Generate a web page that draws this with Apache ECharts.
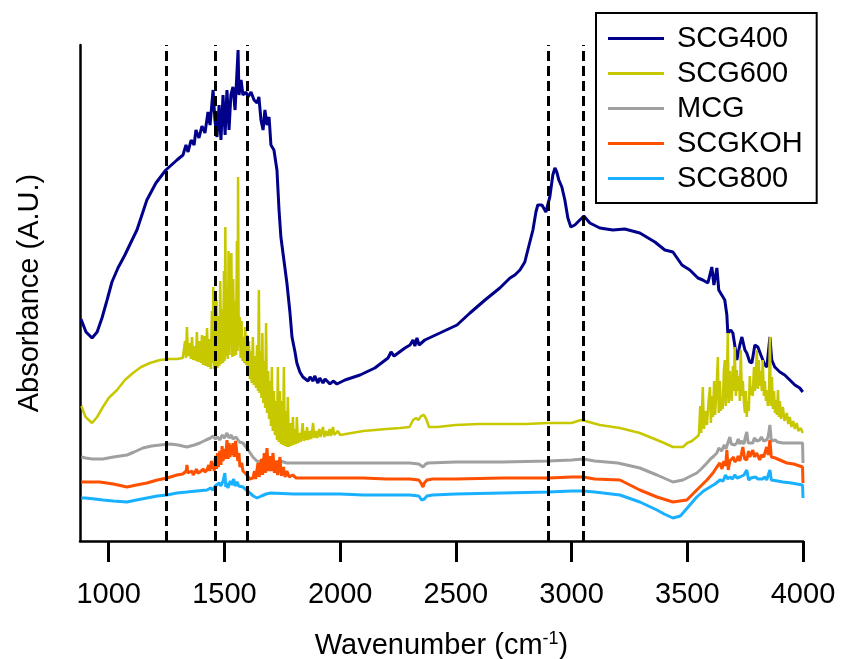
<!DOCTYPE html>
<html>
<head>
<meta charset="utf-8">
<script src="https://cdn.jsdelivr.net/npm/echarts@6/dist/echarts.min.js"></script>
<style>
  html, body { margin: 0; padding: 0; background: #fff; }
  #chart { width: 841px; height: 659px; }
</style>
</head>
<body>
<div id="chart"></div>
<script>
// tick labels on the wavenumber axis
const xTicks = [1000, 1500, 2000, 2500, 3000, 3500, 4000]
// dashed reference lines (cm-1)
const markerWavenumbers = [1250, 1460, 1600, 2900, 3050]

// spectra as [wavenumber, absorbance (a.u.)]
const scg400 = [
  [880, 222], [902, 209], [928, 203], [950, 209], [971, 223], [993, 241], [1014, 259], [1040, 273],
  [1070, 286], [1101, 301], [1122, 311], [1165, 341], [1204, 358], [1247, 371], [1295, 381], [1321, 386],
  [1334, 396], [1343, 389], [1356, 401], [1369, 396], [1377, 411], [1390, 403], [1403, 415], [1416, 408],
  [1429, 429], [1438, 416], [1451, 451], [1459, 421], [1468, 404], [1477, 436], [1485, 401], [1494, 446],
  [1503, 406], [1511, 451], [1520, 411], [1528, 446], [1537, 454], [1546, 431], [1559, 491], [1563, 446],
  [1572, 461], [1580, 446], [1593, 449], [1602, 444], [1615, 449], [1628, 441], [1641, 438], [1649, 444],
  [1658, 421], [1667, 411], [1675, 431], [1684, 416], [1693, 424], [1701, 396], [1714, 391], [1727, 371],
  [1736, 331], [1744, 304], [1757, 281], [1770, 258], [1783, 229], [1792, 204], [1805, 189], [1813, 178],
  [1826, 169], [1839, 164], [1861, 160], [1870, 164], [1883, 160], [1890, 165], [1904, 158], [1912, 163],
  [1926, 158], [1935, 162], [1956, 157], [1970, 160], [1986, 157], [2021, 161], [2086, 166], [2150, 173],
  [2207, 183], [2220, 189], [2233, 185], [2280, 193], [2302, 196], [2315, 201], [2323, 195], [2332, 203],
  [2341, 196], [2366, 201], [2431, 208], [2505, 216], [2561, 228], [2626, 241], [2690, 253], [2734, 263],
  [2755, 266], [2777, 271], [2798, 279], [2811, 291], [2833, 311], [2846, 329], [2854, 336], [2872, 336],
  [2889, 329], [2906, 344], [2919, 366], [2928, 373], [2936, 369], [2945, 361], [2958, 354], [2971, 341],
  [2984, 323], [2997, 314], [3014, 316], [3027, 319], [3053, 325], [3079, 318], [3122, 313], [3178, 311],
  [3230, 312], [3295, 308], [3360, 299], [3403, 291], [3438, 289], [3477, 276], [3511, 271], [3546, 263],
  [3567, 261], [3589, 258], [3606, 274], [3615, 256], [3628, 273], [3636, 251], [3649, 246], [3662, 241],
  [3671, 226], [3675, 208], [3688, 211], [3697, 208], [3705, 196], [3714, 181], [3727, 196], [3736, 204],
  [3749, 191], [3757, 188], [3770, 179], [3779, 178], [3792, 196], [3805, 194], [3818, 186], [3826, 184],
  [3835, 176], [3844, 174], [3857, 204], [3865, 181], [3878, 174], [3900, 169], [3921, 166], [3943, 161],
  [3965, 156], [3986, 153], [3999, 149]
]

const scg600 = [
  [882, 135], [900, 124], [928, 118], [950, 124], [975, 134], [1000, 143], [1036, 151], [1070, 161],
  [1105, 168], [1140, 174], [1178, 178], [1222, 181], [1260, 182], [1295, 182], [1320, 183],
  [1325, 184], [1330, 200], [1334, 183], [1338, 214], [1343, 185], [1350, 198], [1355, 182], [1360, 204],
  [1365, 181], [1372, 195], [1377, 180], [1381, 209], [1386, 179], [1393, 200], [1398, 178], [1403, 206],
  [1408, 176], [1414, 205], [1419, 175], [1425, 213], [1430, 174], [1436, 202], [1441, 172], [1446, 230],
  [1449, 178], [1452, 254], [1455, 172], [1459, 240], [1462, 171], [1466, 241], [1470, 173], [1474, 225],
  [1478, 175], [1482, 260], [1486, 177], [1490, 232], [1494, 178], [1498, 270], [1501, 180], [1504, 314],
  [1507, 185], [1510, 250], [1514, 182], [1518, 290], [1522, 186], [1526, 268], [1530, 288], [1534, 184],
  [1538, 262], [1542, 185], [1546, 240], [1550, 186], [1554, 300], [1557, 190], [1559, 364], [1562, 195],
  [1566, 224], [1570, 183], [1574, 220], [1578, 180], [1582, 204], [1586, 178], [1590, 214], [1594, 176],
  [1598, 206], [1602, 174], [1606, 200], [1610, 162], [1614, 190], [1618, 158], [1623, 204], [1627, 156],
  [1632, 185], [1636, 153], [1641, 196], [1645, 150], [1649, 251], [1652, 148], [1656, 190], [1660, 143],
  [1664, 208], [1668, 138], [1672, 180], [1676, 133], [1680, 218], [1684, 128], [1689, 170], [1693, 122],
  [1697, 160], [1701, 115], [1705, 174], [1709, 110], [1714, 150], [1718, 106], [1722, 140], [1727, 101],
  [1731, 174], [1735, 99], [1740, 150], [1744, 97], [1749, 140], [1753, 96], [1757, 174], [1761, 95],
  [1766, 130], [1770, 94], [1774, 144], [1779, 94], [1784, 118], [1789, 95], [1796, 124], [1800, 96],
  [1806, 112], [1810, 97], [1813, 124], [1818, 98], [1825, 108], [1830, 99], [1838, 118], [1843, 100],
  [1850, 110], [1854, 101], [1857, 114], [1862, 101], [1870, 110], [1875, 102], [1883, 118], [1888, 103],
  [1896, 110], [1901, 103], [1910, 112], [1915, 104], [1926, 114], [1931, 104], [1940, 110], [1946, 105],
  [1955, 112], [1960, 105], [1969, 114], [1975, 106], [1990, 110], [2000, 106], [2050, 108], [2100, 110],
  [2150, 111], [2200, 112], [2260, 113], [2300, 114], [2315, 121], [2328, 123], [2338, 121], [2350, 125],
  [2362, 126], [2372, 122], [2384, 114], [2420, 114], [2500, 116], [2600, 117], [2700, 117], [2800, 117],
  [2900, 118], [3000, 118], [3040, 121], [3060, 120], [3122, 116], [3209, 113], [3295, 108], [3369, 101],
  [3400, 98], [3438, 94], [3481, 94], [3500, 98], [3520, 100], [3541, 104], [3550, 106], [3556, 135],
  [3560, 108], [3567, 154], [3572, 112], [3578, 130], [3585, 116], [3592, 140], [3598, 154], [3602, 118],
  [3607, 145], [3611, 124], [3616, 160], [3620, 126], [3626, 150], [3632, 184], [3636, 128], [3641, 160],
  [3645, 130], [3649, 141], [3653, 132], [3658, 170], [3662, 181], [3666, 135], [3671, 160], [3675, 208],
  [3679, 138], [3684, 170], [3688, 151], [3692, 140], [3697, 175], [3701, 150], [3705, 194], [3710, 145],
  [3714, 171], [3718, 150], [3723, 165], [3727, 140], [3731, 191], [3736, 145], [3740, 160], [3745, 138],
  [3749, 128], [3753, 150], [3757, 124], [3761, 140], [3766, 130], [3770, 165], [3775, 146], [3779, 154],
  [3783, 145], [3788, 174], [3792, 150], [3796, 160], [3800, 191], [3805, 152], [3809, 181], [3813, 155],
  [3818, 170], [3822, 150], [3826, 181], [3831, 145], [3835, 160], [3840, 140], [3844, 151], [3848, 135],
  [3853, 145], [3857, 204], [3861, 135], [3866, 164], [3870, 132], [3875, 150], [3879, 128], [3883, 141],
  [3887, 126], [3892, 151], [3896, 124], [3900, 140], [3905, 122], [3913, 134], [3920, 120], [3930, 128],
  [3936, 117], [3943, 124], [3950, 114], [3958, 120], [3965, 112], [3973, 118], [3980, 110], [3990, 113],
  [3999, 108]
]

const mcg = [
  [882, 84], [900, 83], [930, 82], [975, 82], [1020, 84], [1079, 86], [1110, 89], [1148, 93], [1185, 95],
  [1222, 96], [1265, 97], [1300, 96], [1338, 94], [1370, 96], [1394, 98], [1420, 101], [1440, 103],
  [1451, 105], [1460, 102], [1470, 104], [1481, 101], [1490, 106], [1500, 103], [1511, 108], [1520, 103],
  [1530, 106], [1537, 102], [1550, 104], [1565, 99], [1580, 98], [1600, 92], [1623, 84], [1640, 80],
  [1654, 79], [1668, 82], [1684, 80], [1700, 81], [1720, 79], [1740, 80], [1770, 78], [1813, 78],
  [1883, 78], [1986, 78], [2100, 78], [2200, 78], [2300, 78], [2340, 77], [2358, 74], [2370, 77],
  [2380, 78], [2500, 79], [2700, 79], [2900, 80], [3000, 81], [3050, 82], [3100, 80], [3200, 78],
  [3295, 73], [3369, 66], [3438, 59], [3481, 61], [3541, 68], [3560, 72], [3585, 78], [3600, 82],
  [3615, 85], [3628, 88], [3636, 93], [3641, 94], [3648, 90], [3654, 91], [3660, 96], [3667, 92],
  [3675, 98], [3684, 104], [3690, 97], [3697, 99], [3705, 96], [3714, 98], [3720, 102], [3727, 97],
  [3733, 100], [3740, 101], [3745, 97], [3750, 103], [3757, 109], [3763, 98], [3770, 100], [3783, 98],
  [3790, 103], [3800, 100], [3813, 101], [3820, 104], [3830, 100], [3843, 101], [3850, 105], [3857, 116],
  [3863, 100], [3870, 99], [3880, 101], [3890, 99], [3913, 98], [3940, 98], [3970, 98], [3998, 98],
  [4000, 78]
]

const scgkoh = [
  [882, 59], [900, 59], [962, 59], [1020, 57], [1079, 54], [1120, 56], [1165, 58], [1210, 61], [1252, 63],
  [1295, 66], [1320, 67], [1335, 70], [1338, 76], [1342, 68], [1360, 70], [1365, 66], [1380, 72],
  [1384, 68], [1394, 69], [1410, 72], [1415, 69], [1425, 71],
  [1432, 76], [1437, 70], [1444, 80], [1448, 72], [1451, 78], [1456, 70], [1462, 85], [1466, 72],
  [1470, 88], [1474, 74], [1480, 90], [1485, 76], [1490, 95], [1494, 80], [1500, 92], [1505, 82],
  [1511, 101], [1516, 82], [1520, 98], [1524, 84], [1530, 96], [1534, 86], [1537, 98], [1542, 84],
  [1548, 100], [1554, 101], [1558, 80], [1563, 88], [1567, 74], [1575, 78], [1580, 70], [1589, 68],
  [1600, 65], [1610, 62], [1623, 63], [1630, 70], [1635, 62], [1645, 78], [1650, 64], [1660, 82],
  [1665, 66], [1672, 88], [1677, 68], [1684, 93], [1690, 70], [1697, 85], [1702, 70], [1710, 88],
  [1716, 68], [1724, 80], [1730, 66], [1740, 84], [1746, 65], [1755, 74], [1762, 64], [1770, 70],
  [1780, 64], [1795, 66], [1810, 63], [1850, 63], [1913, 63], [2000, 63], [2100, 63], [2200, 62],
  [2300, 62], [2340, 61], [2352, 57], [2358, 54], [2364, 58], [2375, 61], [2400, 62], [2500, 62],
  [2700, 63], [2900, 63], [3000, 64], [3050, 64], [3100, 62], [3209, 61], [3295, 51], [3369, 44],
  [3438, 39], [3498, 41], [3541, 51], [3585, 61], [3611, 68], [3628, 74], [3641, 78], [3650, 72],
  [3658, 80], [3666, 75], [3671, 91], [3677, 71], [3684, 80], [3692, 78], [3700, 84], [3705, 79],
  [3714, 81], [3720, 85], [3727, 80], [3733, 86], [3740, 94], [3748, 82], [3757, 81], [3765, 90],
  [3770, 84], [3783, 91], [3790, 84], [3800, 88], [3813, 81], [3820, 86], [3830, 84], [3843, 94],
  [3850, 86], [3857, 101], [3863, 84], [3870, 84], [3880, 83], [3900, 81], [3930, 78], [3960, 77],
  [3998, 74], [4000, 58]
]

const scg800 = [
  [882, 43], [900, 43], [940, 42], [975, 41], [1020, 40], [1079, 39], [1120, 41], [1165, 43], [1210, 45],
  [1252, 46], [1295, 48], [1338, 49], [1380, 50], [1425, 51], [1440, 53], [1450, 51], [1460, 55],
  [1468, 54], [1478, 58], [1485, 55], [1494, 60], [1502, 68], [1506, 54], [1512, 58], [1515, 53],
  [1525, 60], [1532, 56], [1540, 62], [1546, 55], [1554, 59], [1562, 55], [1570, 57], [1580, 54],
  [1595, 51], [1610, 48], [1625, 45], [1641, 43], [1660, 45], [1680, 47], [1700, 48], [1800, 47],
  [1900, 47], [2000, 47], [2100, 46], [2200, 46], [2300, 46], [2340, 45], [2352, 41], [2358, 39],
  [2364, 42], [2375, 45], [2400, 46], [2500, 47], [2700, 48], [2900, 49], [3000, 50], [3050, 50],
  [3100, 49], [3209, 46], [3295, 39], [3369, 31], [3400, 27], [3438, 23], [3470, 25], [3500, 33],
  [3541, 44], [3570, 50], [3598, 54], [3620, 57], [3641, 61], [3655, 60], [3665, 66], [3675, 62],
  [3684, 64], [3695, 62], [3705, 66], [3715, 63], [3727, 64], [3735, 62], [3745, 66], [3757, 71],
  [3765, 61], [3775, 63], [3783, 61], [3795, 64], [3805, 62], [3813, 64], [3825, 62], [3835, 64],
  [3843, 61], [3850, 63], [3857, 71], [3863, 61], [3870, 61], [3890, 60], [3913, 59], [3950, 58],
  [3998, 56], [4000, 43]
]

const font = "'Liberation Sans', Arial, sans-serif"

function makeSeries(name, data, color, width) {
  return {
    name: name,
    type: 'line',
    data: data,
    symbol: 'none',
    color: color,
    lineStyle: { color: color, width: width },
    emphasis: { disabled: true }
  }
}

const chart = echarts.init(document.getElementById('chart'))
const series = [
  makeSeries('SCG400', scg400, '#00008B', 3),
  makeSeries('SCG600', scg600, '#C8C800', 2.5),
  makeSeries('MCG', mcg, '#A0A0A0', 3),
  makeSeries('SCGKOH', scgkoh, '#FF5000', 3),
  makeSeries('SCG800', scg800, '#18B0FF', 3)
]
// dashed markers on top of the spectra
series[4].markLine = {
  silent: true,
  symbol: 'none',
  label: { show: false },
  lineStyle: { color: '#000', type: [10, 5], width: 3 },
  data: markerWavenumbers.map(v => ({ xAxis: v }))
}

chart.setOption({
  animation: false,
  textStyle: { fontFamily: font },
  grid: { left: 80, right: 38, top: 45, bottom: 118, outerBoundsMode: 'none' },
  legend: {
    orient: 'vertical',
    left: 596,
    top: 13,
    selectedMode: false,
    icon: 'rect',
    itemWidth: 56,
    itemHeight: 3,
    itemGap: 6,
    padding: [11, 14, 10, 12],
    borderColor: '#000',
    borderWidth: 2,
    backgroundColor: '#fff',
    textStyle: { fontSize: 29, color: '#000', fontFamily: font, padding: [0, 0, 0, 8] },
    data: ['SCG400', 'SCG600', 'MCG', 'SCGKOH', 'SCG800']
  },
  xAxis: {
    type: 'value',
    min: 876,
    max: 4000,
    name: '{a|Wavenumber (cm}{s|-1}{a|)}',
    nameLocation: 'middle',
    nameGap: 89,
    nameTextStyle: {
      rich: {
        a: { fontSize: 29, color: '#000', fontFamily: font },
        s: { fontSize: 18, color: '#000', fontFamily: font, verticalAlign: 'top', padding: [0, 0, 14, 0] }
      }
    },
    axisLine: { lineStyle: { color: '#000', width: 2.5 } },
    axisTick: { customValues: xTicks, length: 21, lineStyle: { color: '#000', width: 3 } },
    axisLabel: {
      customValues: xTicks,
      margin: 39,
      fontSize: 29,
      color: '#000',
      fontFamily: font,
      formatter: v => String(v)
    },
    splitLine: { show: false }
  },
  yAxis: {
    type: 'value',
    min: 0,
    max: 496,
    name: 'Absorbance (A.U.)',
    nameLocation: 'middle',
    nameGap: 36,
    nameTextStyle: { fontSize: 29, color: '#000', fontFamily: font },
    axisLine: { show: true, lineStyle: { color: '#000', width: 2.5 } },
    axisTick: { show: false },
    axisLabel: { show: false },
    splitLine: { show: false }
  },
  series: series
})
</script>
</body>
</html>
